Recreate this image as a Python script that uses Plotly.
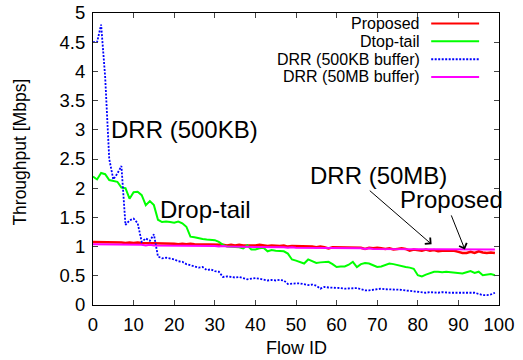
import plotly.graph_objects as go

flow_id = list(range(100))

proposed = [1.08, 1.08, 1.07, 1.08, 1.07, 1.07, 1.08, 1.07, 1.06, 1.07,
            1.06, 1.07, 1.06, 1.06, 1.05, 1.06, 1.06, 1.05, 1.05, 1.06,
            1.05, 1.04, 1.05, 1.04, 1.05, 1.04, 1.04, 1.03, 1.04, 1.03,
            1.03, 1.04, 1.03, 1.02, 1.03, 1.02, 1.03, 1.02, 1.02, 1.01,
            1.02, 1.03, 1.02, 1.01, 1.02, 1.01, 1.01, 1.02, 1.00, 1.01,
            1.01, 1.00, 1.01, 1.00, 1.00, 0.99, 1.00, 0.99, 0.97, 0.99,
            0.99, 0.98, 0.99, 0.98, 0.99, 0.98, 0.98, 0.96, 0.98, 0.97,
            0.98, 0.97, 0.96, 0.97, 0.95, 0.96, 0.97, 0.96, 0.93, 0.95,
            0.94, 0.93, 0.95, 0.93, 0.94, 0.92, 0.93, 0.93, 0.92, 0.93,
            0.91, 0.89, 0.89, 0.91, 0.89, 0.92, 0.90, 0.89, 0.90, 0.89]

drop_tail = [2.20, 2.15, 2.26, 2.24, 2.14, 2.12, 2.11, 2.01, 2.00, 1.82,
             1.93, 1.94, 1.88, 1.71, 1.78, 1.71, 1.46, 1.42, 1.43, 1.42,
             1.41, 1.43, 1.40, 1.34, 1.17, 1.16, 1.14, 1.13, 1.12, 1.11,
             1.11, 1.08, 1.03, 1.00, 1.00, 0.99, 0.99, 0.97, 1.02, 0.95,
             0.95, 0.97, 0.98, 0.92, 0.94, 0.93, 0.93, 0.92, 0.88, 0.78,
             0.76, 0.73, 0.71, 0.78, 0.75, 0.72, 0.73, 0.74, 0.74, 0.70,
             0.65, 0.66, 0.66, 0.69, 0.74, 0.65, 0.70, 0.72, 0.71, 0.68,
             0.65, 0.66, 0.68, 0.71, 0.70, 0.68, 0.66, 0.65, 0.64, 0.62,
             0.51, 0.49, 0.52, 0.54, 0.57, 0.57, 0.56, 0.57, 0.56, 0.55,
             0.55, 0.54, 0.56, 0.58, 0.55, 0.57, 0.51, 0.52, 0.53, 0.51]

drr_500kb = [4.50, 4.50, 4.80, 3.90, 2.50, 2.15, 2.25, 2.38, 1.37, 1.45,
             1.48, 1.40, 1.08, 1.14, 1.10, 1.21, 0.83, 0.80, 0.81, 0.80,
             0.78, 0.75, 0.74, 0.70, 0.68, 0.67, 0.64, 0.65, 0.60, 0.61,
             0.58, 0.57, 0.48, 0.49, 0.48, 0.47, 0.48, 0.46, 0.44, 0.45,
             0.46, 0.45, 0.43, 0.42, 0.43, 0.42, 0.43, 0.42, 0.36, 0.37,
             0.37, 0.37, 0.36, 0.34, 0.35, 0.33, 0.28, 0.31, 0.30, 0.30,
             0.29, 0.29, 0.28, 0.28, 0.29, 0.29, 0.27, 0.25, 0.25, 0.26,
             0.27, 0.28, 0.27, 0.27, 0.26, 0.26, 0.26, 0.25, 0.24, 0.24,
             0.22, 0.21, 0.21, 0.22, 0.21, 0.21, 0.22, 0.21, 0.21, 0.21,
             0.21, 0.20, 0.21, 0.20, 0.21, 0.19, 0.17, 0.17, 0.18, 0.21]

drr_50mb = [1.04, 1.04, 1.04, 1.04, 1.03, 1.04, 1.03, 1.03, 1.03, 1.03,
            1.03, 1.03, 1.03, 1.02, 1.03, 1.02, 1.02, 1.02, 1.02, 1.02,
            1.02, 1.02, 1.01, 1.02, 1.01, 1.01, 1.01, 1.01, 1.01, 1.01,
            1.01, 1.00, 1.01, 1.00, 1.00, 1.00, 1.00, 1.00, 1.00, 0.99,
            1.00, 0.99, 0.99, 0.99, 0.99, 0.99, 0.99, 0.99, 0.98, 0.99,
            0.98, 0.98, 0.98, 0.98, 0.98, 0.98, 0.98, 0.97, 0.98, 0.97,
            0.97, 0.97, 0.97, 0.97, 0.97, 0.97, 0.97, 0.96, 0.97, 0.96,
            0.96, 0.96, 0.96, 0.96, 0.96, 0.96, 0.96, 0.96, 0.96, 0.96,
            0.96, 0.96, 0.95, 0.96, 0.95, 0.95, 0.95, 0.95, 0.95, 0.95,
            0.95, 0.95, 0.95, 0.95, 0.95, 0.95, 0.95, 0.95, 0.95, 0.95]

legend_labels = ["Proposed", "Dtop-tail", "DRR (500KB buffer)", "DRR (50MB buffer)"]
series = [proposed, drop_tail, drr_500kb, drr_50mb]
colors = ["#ff0000", "#00ff00", "#0000ff", "#ff00ff"]
dashes = ["solid", "solid", "2px,1.5px", "solid"]
widths = [2.5, 2.0, 1.8, 2.0]

x_ticks = [0, 10, 20, 30, 40, 50, 60, 70, 80, 90, 100]
y_ticks = [0, 0.5, 1, 1.5, 2, 2.5, 3, 3.5, 4, 4.5, 5]
y_tick_text = ["0", "0.5", "1", "1.5", "2", "2.5", "3", "3.5", "4", "4.5", "5"]

FONT = "Liberation Sans, Arial, Helvetica, sans-serif"

fig = go.Figure()
for name, ys, c, d, w in zip(legend_labels, series, colors, dashes, widths):
    fig.add_trace(go.Scatter(x=flow_id, y=ys, mode="lines", name=name,
                             line=dict(color=c, dash=d, width=w),
                             showlegend=False))

# Legend (gnuplot style: text right-aligned, key sample on the right)
leg_y = [0.964, 0.903, 0.842, 0.781]
for lab, c, d, yy in zip(legend_labels, colors, dashes, leg_y):
    fig.add_annotation(xref="paper", yref="paper", x=0.809, y=yy, text=lab,
                       showarrow=False, xanchor="right", yanchor="middle",
                       borderpad=0,
                       font=dict(family=FONT, size=16, color="black"))
    fig.add_shape(type="line", xref="paper", yref="paper",
                  x0=0.833, x1=0.951, y0=yy, y1=yy,
                  line=dict(color=c, dash=d, width=2))

# Text labels in the plot
labels = [("DRR (500KB)", 22.5, 3.01), ("Drop-tail", 27.7, 1.63),
          ("DRR (50MB)", 70.4, 2.22), ("Proposed", 88.4, 1.81)]
for t, xx, yy in labels:
    fig.add_annotation(x=xx, y=yy, text=t, showarrow=False,
                       xanchor="center", yanchor="middle",
                       font=dict(family=FONT, size=24, color="black"))

# Arrows
arrows = [((67.8, 1.98), (83.4, 1.04)), ((88.1, 1.56), (91.6, 0.95))]
for (tx, ty), (hx, hy) in arrows:
    fig.add_annotation(x=hx, y=hy, ax=tx, ay=ty, axref="x", ayref="y",
                       text="", showarrow=True, arrowhead=4, arrowsize=1.6,
                       arrowwidth=1, arrowcolor="black")

# Axis titles
fig.add_annotation(xref="paper", yref="paper", x=0.5, y=-0.148,
                   text="Flow ID", showarrow=False,
                   xanchor="center", yanchor="middle",
                   font=dict(family=FONT, size=18, color="black"))
fig.add_annotation(xref="paper", yref="paper", x=-0.18, y=0.525,
                   text="Throughput [Mbps]", showarrow=False, textangle=-90,
                   xanchor="center", yanchor="middle",
                   font=dict(family=FONT, size=17.5, color="black"))

fig.update_layout(
    width=523, height=360,
    margin=dict(l=93, r=24, t=13, b=55, autoexpand=False),
    paper_bgcolor="white", plot_bgcolor="white",
    font=dict(family=FONT, size=17, color="black"),
    xaxis=dict(range=[0, 100], tickvals=x_ticks, ticks="inside", ticklen=5,
               showline=True, linecolor="black", linewidth=1, mirror="allticks",
               showgrid=False, zeroline=False, ticklabelstandoff=3,
               automargin=False, tickfont=dict(size=18.5)),
    yaxis=dict(range=[0, 5], tickvals=y_ticks, ticktext=y_tick_text,
               ticks="inside", ticklen=5,
               showline=True, linecolor="black", linewidth=1, mirror="allticks",
               showgrid=False, zeroline=False, ticklabelstandoff=3,
               automargin=False, tickfont=dict(size=18.5)),
)

fig.write_html("out.html")
